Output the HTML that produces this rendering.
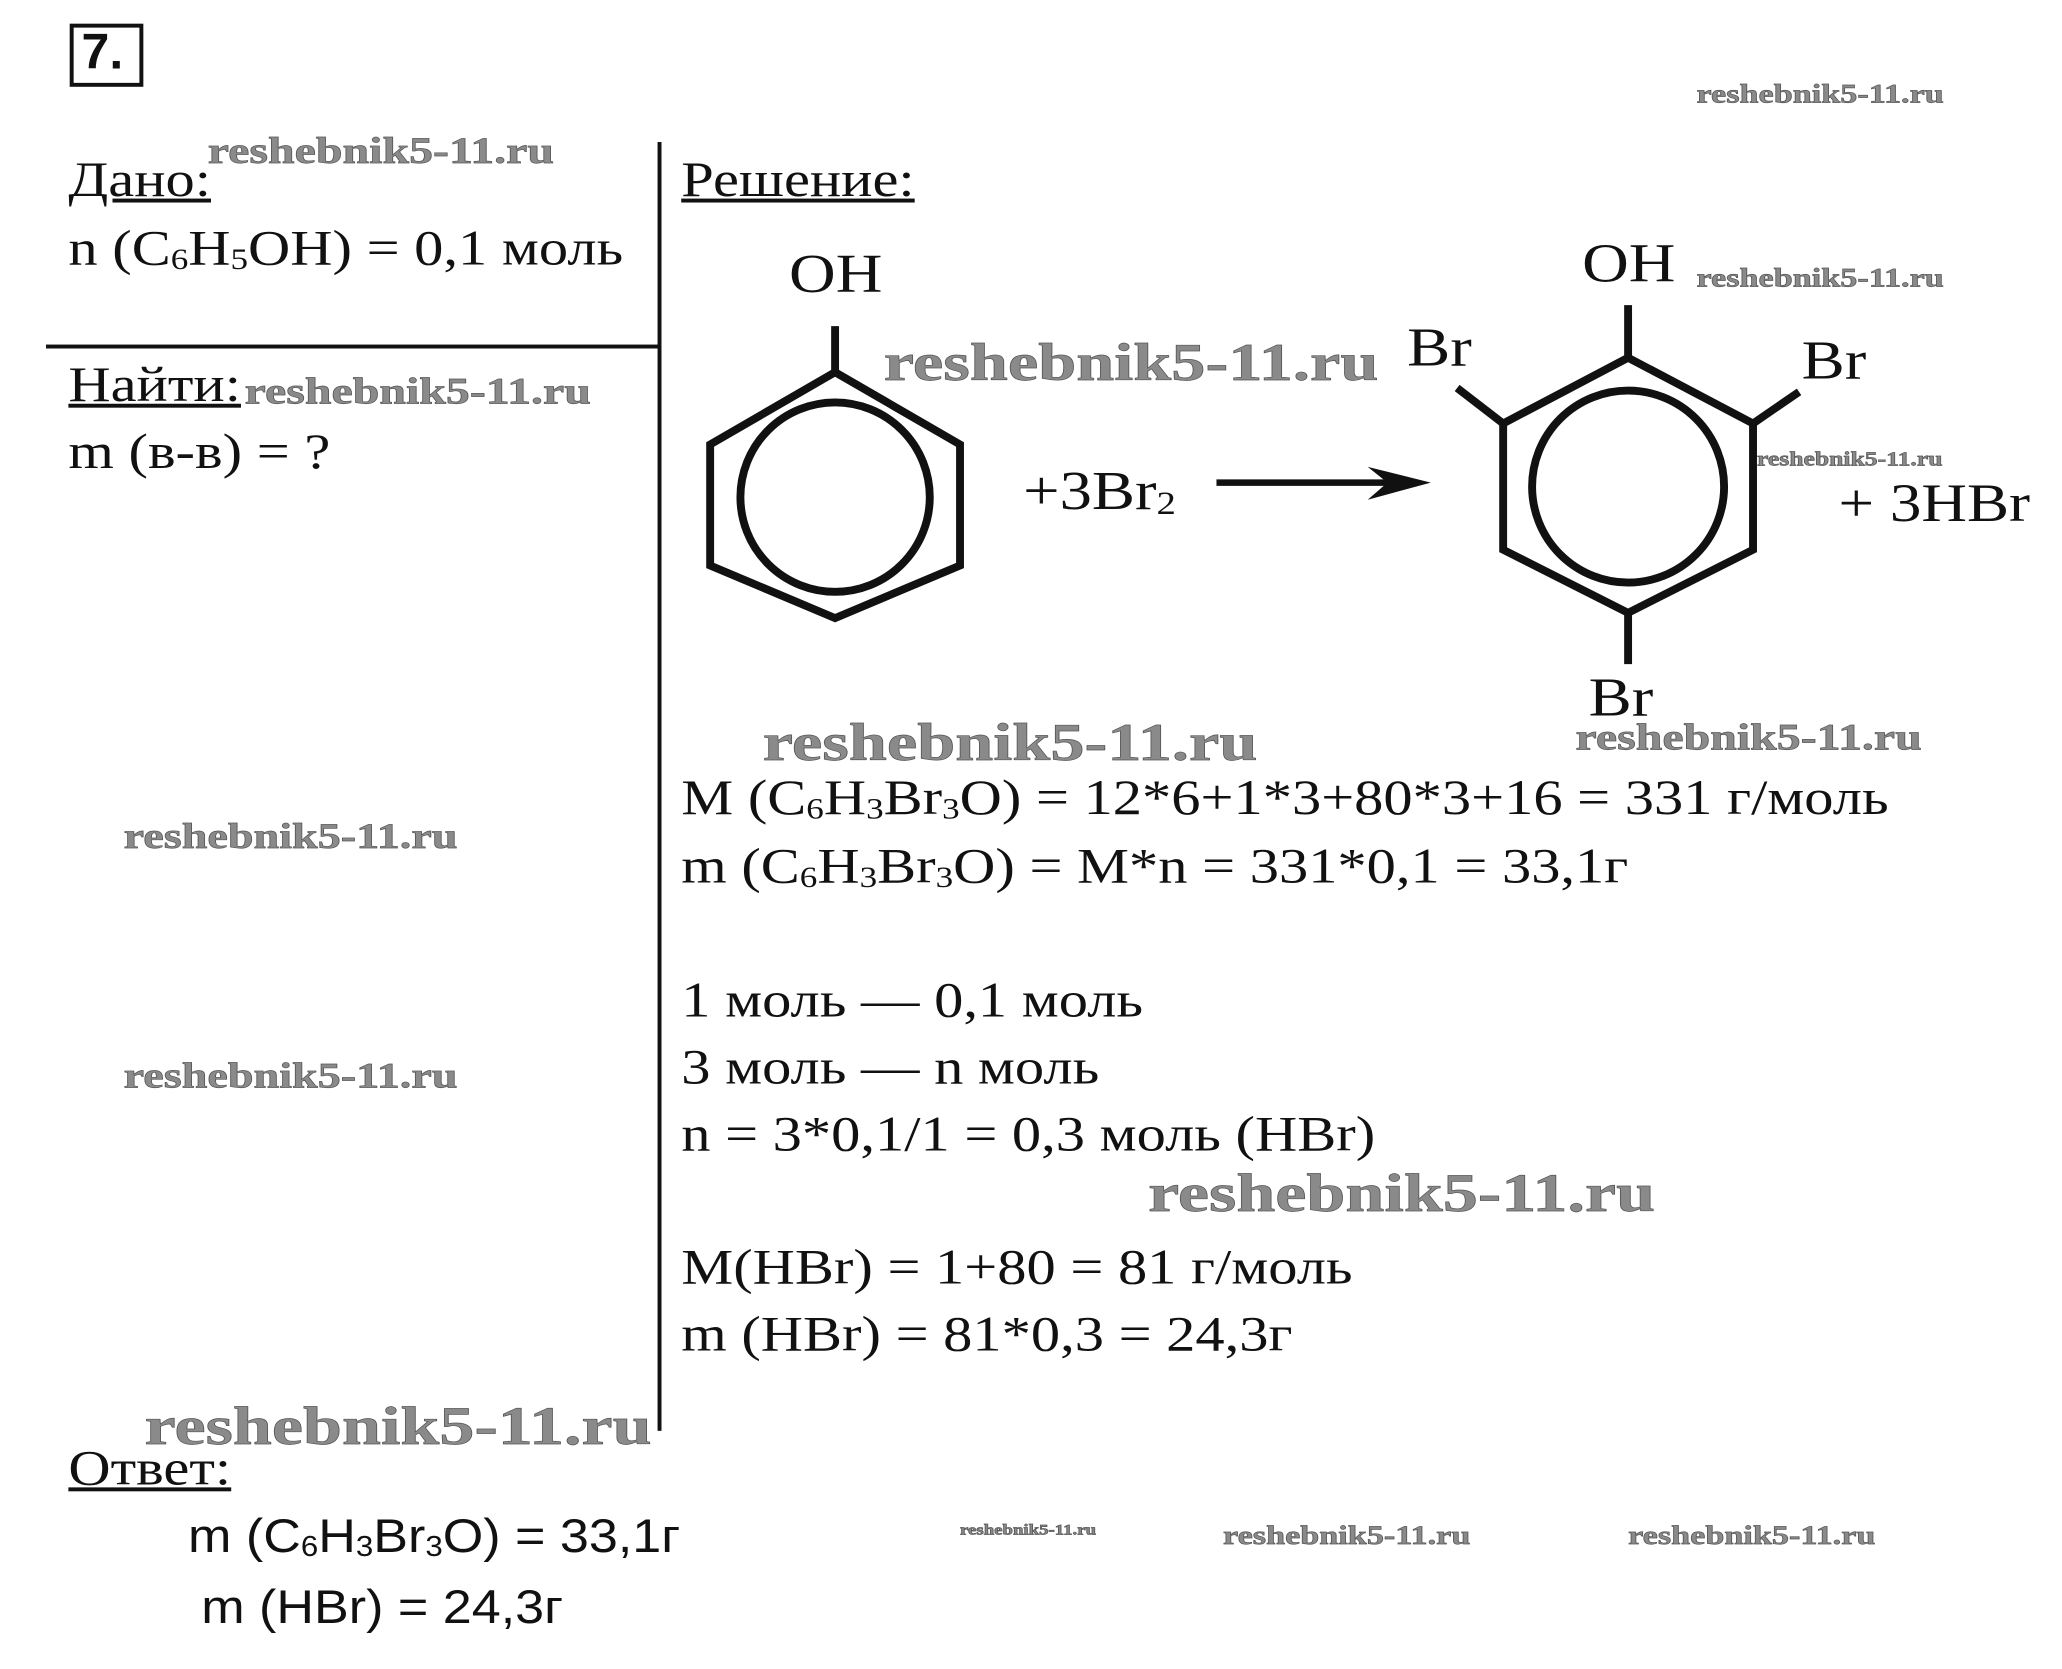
<!DOCTYPE html>
<html><head><meta charset="utf-8"><style>
body{margin:0;background:#fff;width:2062px;height:1669px;overflow:hidden}
#w{position:absolute;left:0;top:0;width:1568px;height:1269px;transform:scale(1.3151);transform-origin:0 0}
.t{position:absolute;font-family:"Liberation Serif","Noto Serif CJK SC",serif;font-size:38px;color:#111;white-space:nowrap;line-height:1;transform:scaleX(1.17);transform-origin:0 0}
.s{font-family:"Liberation Sans","Noto Sans CJK SC",sans-serif;font-size:36px;transform:scaleX(1.1)}
.u{text-decoration:underline}
.wm{position:absolute;font-family:"Liberation Serif",serif;font-weight:bold;color:#8a8a8a;white-space:nowrap;line-height:1;-webkit-text-stroke:0.5px #555;transform:scaleX(1.3);transform-origin:0 0}
sub{font-size:60%;vertical-align:-0.15em}
</style></head><body><div id="w">
<div style="position:absolute;left:53px;top:18px;width:50px;height:42px;border:3px solid #111"></div>
<div class="t" style="left:62px;top:21px;font-size:38px;font-weight:bold;font-family:'Liberation Sans',sans-serif;transform:none">7.</div>
<div style="position:absolute;left:500px;top:108px;width:3px;height:980px;background:#111"></div>
<div style="position:absolute;left:35px;top:262px;width:467px;height:3px;background:#111"></div>
<div class="t u" style="left:52px;top:118px">Дано:</div>
<div class="t" style="left:52px;top:170px">n (C<sub>6</sub>H<sub>5</sub>OH) = 0,1 моль</div>
<div class="t u" style="left:52px;top:274px">Найти:</div>
<div class="t" style="left:52px;top:325px">m (в-в) = ?</div>
<div class="t u" style="left:518px;top:118px">Решение:</div>
<svg style="position:absolute;left:0;top:0" width="1568" height="1269">
<g fill="none" stroke="#111" stroke-width="6">
<polygon points="635,283 730,338 730,430 635,470 540,430 540,338"/>
<circle cx="635" cy="378" r="72"/>
<line x1="635" y1="248" x2="635" y2="283"/>
<polygon points="1238,272 1333,322 1333,418 1238,466 1143,418 1143,322"/>
<circle cx="1238" cy="370" r="73"/>
<line x1="1238" y1="232" x2="1238" y2="272"/>
<line x1="1238" y1="466" x2="1238" y2="505"/>
<line x1="1143" y1="322" x2="1108" y2="295"/>
<line x1="1333" y1="322" x2="1368" y2="298"/>
<line x1="925" y1="367" x2="1075" y2="367" stroke-width="5"/>
</g>
<polygon points="1040,355 1088,367 1040,380 1055,367" fill="#111"/>
</svg>
<div class="t" style="left:600px;top:188px;font-size:42px">OH</div>
<div class="t" style="left:1203px;top:180px;font-size:42px">OH</div>
<div class="t" style="left:1070px;top:244px;font-size:42px">Br</div>
<div class="t" style="left:1370px;top:254px;font-size:42px">Br</div>
<div class="t" style="left:1208px;top:510px;font-size:42px">Br</div>
<div class="t" style="left:778px;top:353px;font-size:42px">+3Br<sub>2</sub></div>
<div class="t" style="left:1398px;top:362px;font-size:41px">+ 3HBr</div>
<div class="t" style="left:518px;top:588px">M (C<sub>6</sub>H<sub>3</sub>Br<sub>3</sub>O) = 12*6+1*3+80*3+16 = 331 г/моль</div>
<div class="t" style="left:518px;top:640px">m (C<sub>6</sub>H<sub>3</sub>Br<sub>3</sub>O) = M*n = 331*0,1 = 33,1г</div>
<div class="t" style="left:518px;top:742px">1 моль — 0,1 моль</div>
<div class="t" style="left:518px;top:793px">3 моль — n моль</div>
<div class="t" style="left:518px;top:844px">n = 3*0,1/1 = 0,3 моль (HBr)</div>
<div class="t" style="left:518px;top:945px">M(HBr) = 1+80 = 81 г/моль</div>
<div class="t" style="left:518px;top:996px">m (HBr) = 81*0,3 = 24,3г</div>
<div class="t u" style="left:52px;top:1098px">Ответ:</div>
<div class="t s" style="left:143px;top:1150px">m (C<sub>6</sub>H<sub>3</sub>Br<sub>3</sub>O) = 33,1г</div>
<div class="t s" style="left:153px;top:1204px">m (HBr) = 24,3г</div>
<div class="wm" style="left:1290px;top:62px;font-size:20px">reshebnik5-11.ru</div>
<div class="wm" style="left:158px;top:102px;font-size:28px">reshebnik5-11.ru</div>
<div class="wm" style="left:186px;top:285px;font-size:28px">reshebnik5-11.ru</div>
<div class="wm" style="left:672px;top:256px;font-size:40px">reshebnik5-11.ru</div>
<div class="wm" style="left:1290px;top:202px;font-size:20px">reshebnik5-11.ru</div>
<div class="wm" style="left:1336px;top:343px;font-size:15px">reshebnik5-11.ru</div>
<div class="wm" style="left:580px;top:545px;font-size:40px">reshebnik5-11.ru</div>
<div class="wm" style="left:1198px;top:548px;font-size:28px">reshebnik5-11.ru</div>
<div class="wm" style="left:94px;top:623px;font-size:27px">reshebnik5-11.ru</div>
<div class="wm" style="left:94px;top:805px;font-size:27px">reshebnik5-11.ru</div>
<div class="wm" style="left:873px;top:887px;font-size:41px">reshebnik5-11.ru</div>
<div class="wm" style="left:110px;top:1064px;font-size:41px">reshebnik5-11.ru</div>
<div class="wm" style="left:730px;top:1159px;font-size:11px">reshebnik5-11.ru</div>
<div class="wm" style="left:930px;top:1158px;font-size:20px">reshebnik5-11.ru</div>
<div class="wm" style="left:1238px;top:1158px;font-size:20px">reshebnik5-11.ru</div>
</div></body></html>
